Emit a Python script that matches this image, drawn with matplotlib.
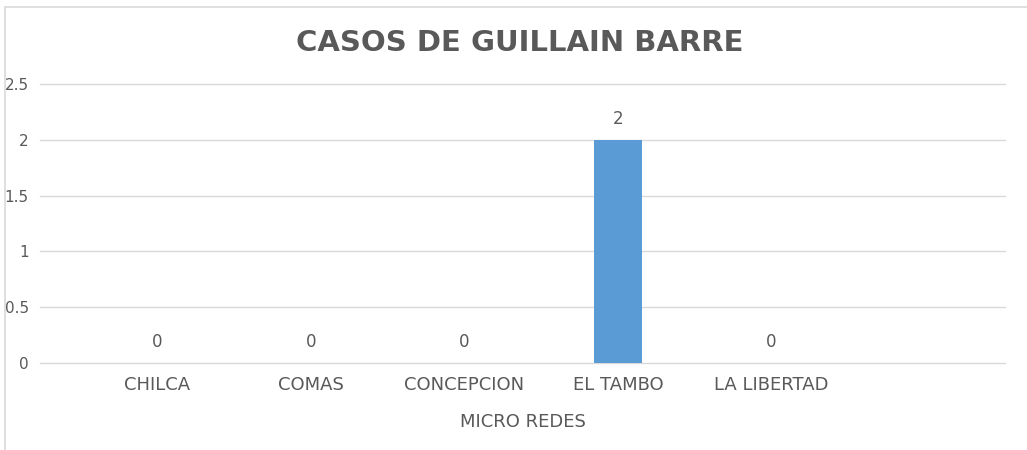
import matplotlib.pyplot as plt
from matplotlib.patches import Rectangle

# Datos del grafico
categorias = ["CHILCA", "COMAS", "CONCEPCION", "EL TAMBO", "LA LIBERTAD"]
casos = [0, 0, 0, 2, 0]
yticks = [0, 0.5, 1, 1.5, 2, 2.5]
ytick_labels = ["0", "0.5", "1", "1.5", "2", "2.5"]

gris = "#595959"
plt.rcParams['font.family'] = ['DejaVu Sans']

fig = plt.figure(figsize=(10.27, 4.5), dpi=100)
ax = fig.add_axes([40/1027, 1-363/450, 965/1027, 279/450])

# marco gris del grafico
fig.patches.append(Rectangle((5/1027, -0.1), 1.1, 1-7/450+0.1, transform=fig.transFigure,
                             fill=False, edgecolor="#d9d9d9", linewidth=1.2))

x = list(range(len(categorias)))
ax.bar(x, casos, width=0.31, color="#5b9bd5", zorder=3)

for xi, v in zip(x, casos):
    ax.annotate(str(v), (xi, v), xytext=(0, 12), textcoords="offset pixels",
                ha="center", va="bottom", fontsize=12, color=gris)

ax.set_xlim(-0.765, 5.52)
ax.set_ylim(0, 2.5)
ax.set_yticks(yticks)
ax.set_yticklabels(ytick_labels)
ax.set_xticks(x)
ax.set_xticklabels(categorias)
ax.grid(axis="y", color="#d9d9d9", linewidth=1, zorder=0)
for g in ax.get_ygridlines():
    g.set_clip_on(False)
ax.tick_params(axis="both", length=0, labelcolor=gris)
ax.tick_params(axis="y", pad=8, labelsize=11)
ax.tick_params(axis="x", pad=9, labelsize=13)
for s in ax.spines.values():
    s.set_visible(False)

ax.set_xlabel("MICRO REDES", fontsize=13, color=gris, labelpad=14)
fig.text(520/1027, 1-43/450, "CASOS DE GUILLAIN BARRE", ha="center", va="center",
         fontsize=21, fontweight="bold", color=gris)

fig.savefig("out.png", dpi=100)
